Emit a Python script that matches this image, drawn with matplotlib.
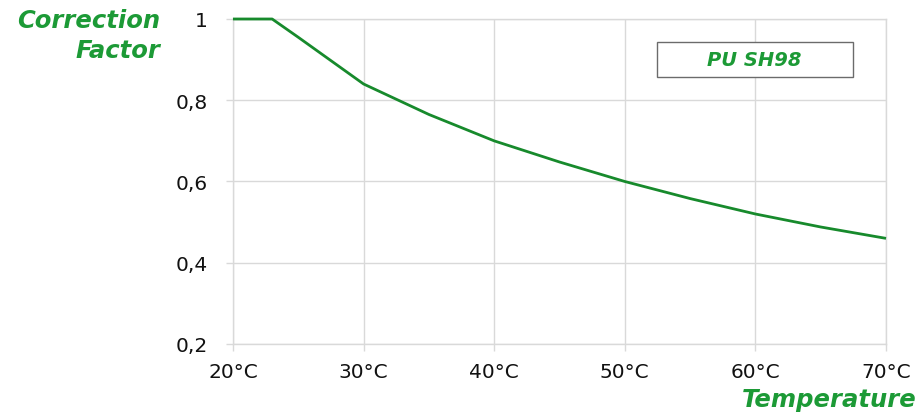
import matplotlib
matplotlib.use("Agg")
import matplotlib.pyplot as plt
from matplotlib.patches import Rectangle

# data
temps = [20, 23, 25, 30, 35, 40, 45, 50, 55, 60, 65, 70]
factor = [1.0, 1.0, 0.955, 0.84, 0.765, 0.70, 0.648, 0.60, 0.558, 0.52, 0.488, 0.46]
x_ticks = [20, 30, 40, 50, 60, 70]
x_labels = ["20°C", "30°C", "40°C", "50°C", "60°C", "70°C"]
y_ticks = [0.2, 0.4, 0.6, 0.8, 1.0]
y_labels = ["0,2", "0,4", "0,6", "0,8", "1"]
series_name = "PU SH98"

GREEN_LINE = "#178a2c"
GREEN_TEXT = "#1c9a36"
GRID = "#d9d9d9"

plt.rcParams["font.family"] = ["DejaVu Sans"]

fig = plt.figure(figsize=(9.19, 4.14), dpi=100)
ax = fig.add_axes([0.2535, 0.1667, 0.7106, 0.785])

ax.plot(temps, factor, color=GREEN_LINE, lw=2.0, solid_capstyle="butt",
        clip_on=False, zorder=3)

ax.set_xlim(20, 70)
ax.set_ylim(0.2, 1.0)
ax.set_xticks(x_ticks)
ax.set_xticklabels(x_labels)
ax.set_yticks(y_ticks)
ax.set_yticklabels(y_labels)
ax.grid(True, color=GRID, lw=1.0)
ax.set_axisbelow(True)
for s in ax.spines.values():
    s.set_color(GRID)
    s.set_linewidth(1.0)
ax.tick_params(axis="both", length=5, width=1.0, color=GRID, labelsize=14.5,
               labelcolor="#111111")
ax.tick_params(axis="x", pad=8)
ax.tick_params(axis="y", pad=13)

# axis titles in the corners
title_kw = dict(color=GREEN_TEXT, fontsize=17.5, fontweight="bold", fontstyle="italic")
fig.text(160 / 919, 1 - 21 / 414, "Correction", ha="right", va="center", **title_kw)
fig.text(160 / 919, 1 - 51 / 414, "Factor", ha="right", va="center", **title_kw)
fig.text(917 / 919, 1 - 400 / 414, "Temperature", ha="right", va="center", **title_kw)

# series label box
ax.add_patch(Rectangle((0.649, 0.8215), 0.300, 0.1077, transform=ax.transAxes,
                       facecolor="white", edgecolor="#6b6b6b", lw=1.0, zorder=5))
ax.text(0.649 + 0.150, 0.8215 + 0.054, series_name, transform=ax.transAxes,
        ha="center", va="center", color=GREEN_TEXT, fontsize=14,
        fontweight="bold", fontstyle="italic", zorder=6)

fig.savefig("out.png", dpi=100)
